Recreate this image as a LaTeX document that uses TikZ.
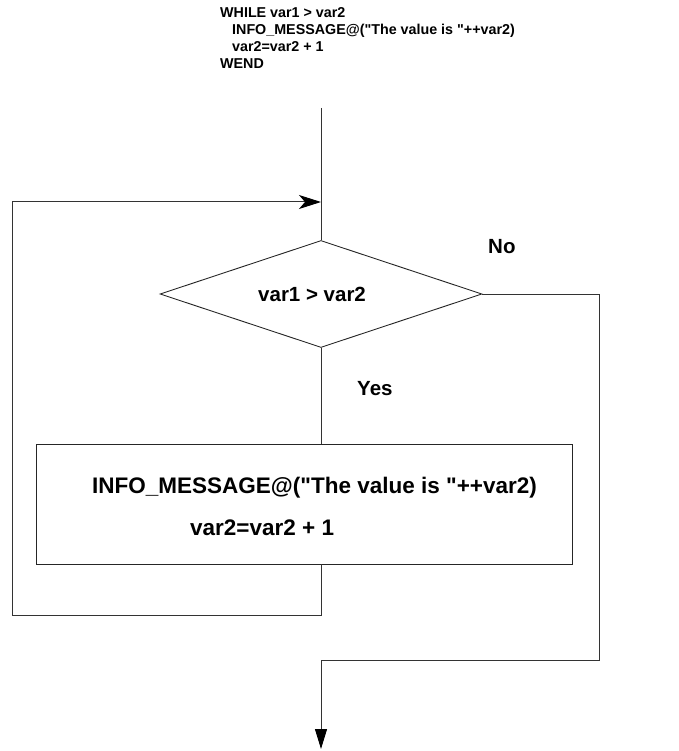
\documentclass[tikz,border=0pt]{standalone}
\usepackage{fontspec}
\setmainfont{Liberation Sans}[Ligatures=TeXOff]
\usetikzlibrary{shapes.geometric,arrows.meta}
\begin{document}
\begin{tikzpicture}[x=1pt,y=-1pt,
  wire/.style={draw=black!80,line width=1pt},
  txt/.style={inner sep=0pt,anchor=base west,font=\fontsize{20.5}{24}\selectfont\bfseries},
  codetxt/.style={txt,font=\fontsize{14.3}{17}\selectfont\bfseries},
  bodytxt/.style={txt,font=\fontsize{22.5}{26}\selectfont\bfseries},
  decision/.style={diamond,draw=black!85,line width=0.9pt,inner sep=0pt,minimum width=322pt,minimum height=107pt},
  stmtbox/.style={rectangle,draw=black!85,line width=0.9pt,inner sep=0pt,minimum width=536pt,minimum height=120pt}]
\useasboundingbox (0,0) rectangle (678,751);

% pseudo-code heading
\node[codetxt] (h1) at (220,18) {WHILE var1 > var2};
\node[codetxt] (h2) at (232,35) {INFO\_MESSAGE@("The value is "++var2)};
\node[codetxt] (h3) at (232,52) {var2=var2 + 1};
\node[codetxt] (h4) at (220,69) {WEND};

% flowchart shapes
\node[decision] (cond) at (321,294) {};
\node[txt] (condtxt) at (258,301) {var1 > var2};
\node[stmtbox] (body) at (304,504) {};
\node[bodytxt] (b1) at (92,493) {INFO\_MESSAGE@("The value is "++var2)};
\node[bodytxt] (b2) at (190,535) {var2=var2 + 1};
\node[txt] (no) at (488,253) {No};
\node[txt] (yes) at (357,395) {Yes};

% routing points
\coordinate (top) at (321,108);
\coordinate (entry) at (321,202);
\coordinate (loopL) at (12,615);
\coordinate (exitR) at (599,660);
\coordinate (done) at (321,749);

% connectors
\draw[wire] (top) -- (cond.north);
\draw[wire] (cond.south) -- (cond.south |- body.north);
\draw[wire,-{Stealth[length=22pt,width=14pt,inset=6pt,black]}]
  (cond.center |- body.south) -- (cond.center |- loopL) -- (loopL) |- (entry);
\draw[wire,-{Triangle[length=20pt,width=12pt,black]}]
  (cond.east) -| (exitR) -| (done);
\end{tikzpicture}
\end{document}
